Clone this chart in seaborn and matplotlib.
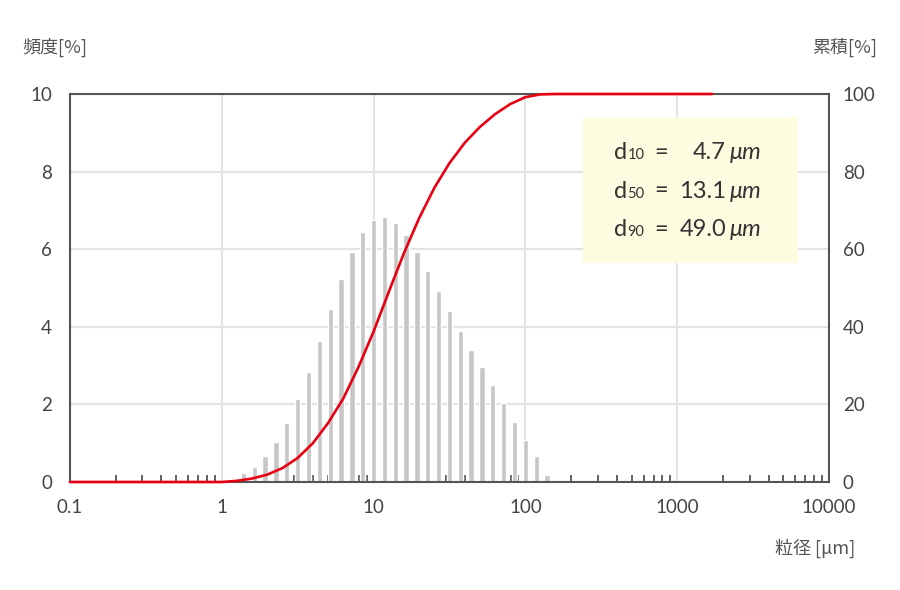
import matplotlib
matplotlib.use("Agg")
import matplotlib.pyplot as plt
from matplotlib.patches import Rectangle
from matplotlib.ticker import LogLocator, FixedLocator, NullFormatter
import pandas as pd
import seaborn as sns

# particle size classes (um) and frequency (%)
size = [1.179, 1.389, 1.638, 1.931, 2.276, 2.683, 3.162, 3.728, 4.394, 5.179,
        6.105, 7.197, 8.483, 10.0, 11.79, 13.89, 16.38, 19.31, 22.76, 26.83,
        31.62, 37.28, 43.94, 51.79, 61.05, 71.97, 84.83, 100.0, 117.9, 138.9]
freq = [0.08, 0.22, 0.39, 0.67, 1.04, 1.52, 2.13, 2.83, 3.63, 4.46,
        5.24, 5.93, 6.44, 6.74, 6.82, 6.68, 6.37, 5.93, 5.44, 4.92,
        4.40, 3.89, 3.41, 2.96, 2.50, 2.04, 1.55, 1.08, 0.66, 0.19]

# cumulative curve
cum_size = [0.1, 1.0, 1.259, 1.585, 1.995, 2.512, 3.162, 3.981, 5.012, 6.310,
            7.943, 10.0, 12.59, 15.85, 19.95, 25.12, 31.62, 39.81, 50.12,
            63.10, 79.43, 100.0, 125.9, 158.5, 1700]
cum_pct = [0, 0, 0.3, 0.9, 1.9, 3.6, 6.2, 10.0, 15.2, 21.5,
           29.6, 38.8, 49.0, 59.0, 68.0, 75.8, 82.2, 87.4, 91.5,
           94.8, 97.4, 99.2, 99.9, 100, 100]

stats = [("10", "4.7"), ("50", "13.1"), ("90", "49.0")]

sns.set_theme(style="white")
plt.rcParams["font.family"] = ["Lato", "Noto Sans CJK JP", "DejaVu Sans"]

W, H = 900, 590
fig = plt.figure(figsize=(9, 5.9), dpi=100)
ax = fig.add_axes([70 / W, 1 - 482 / H, 759 / W, 388 / H])

ax.bar(size, freq, width=[s * 0.08 for s in size], color="#c6c6c6", zorder=1)
ax.set_xscale("log")
ax.set_xlim(0.1, 10000)
ax.set_ylim(0, 10)
ax.xaxis.set_major_locator(FixedLocator([0.1, 1, 10, 100, 1000, 10000]))
ax.set_xticklabels(["0.1", "1", "10", "100", "1000", "10000"])
ax.xaxis.set_minor_locator(LogLocator(base=10, subs=range(2, 10)))
ax.xaxis.set_minor_formatter(NullFormatter())
ax.set_yticks([0, 2, 4, 6, 8, 10])
ax.grid(True, which="major", color="#e3e3e3", lw=1.5)
ax.set_axisbelow(True)
ax.tick_params(axis="both", which="major", length=0, labelsize=13.5,
               labelcolor="#444")
ax.tick_params(axis="x", which="major", pad=12)
ax.tick_params(axis="y", which="major", pad=13)
ax.tick_params(axis="x", which="minor", direction="in", length=5, width=1.3,
               color="#555", bottom=True)
for sp in ax.spines.values():
    sp.set_color("#555")
    sp.set_linewidth(1.5)

ax2 = ax.twinx()
df = pd.DataFrame({"size": cum_size, "cum": cum_pct})
sns.lineplot(data=df, x="size", y="cum", ax=ax2, color="#e60012", lw=1.9,
             zorder=3, clip_on=False)
ax2.set_ylim(0, 100)
ax2.set_yticks([0, 20, 40, 60, 80, 100])
ax2.set_xlabel("")
ax2.set_ylabel("")
ax2.tick_params(axis="y", length=0, labelsize=13.5, labelcolor="#444", pad=10)
for sp in ax2.spines.values():
    sp.set_visible(False)

ax.set_xlabel("")
ax.set_ylabel("")

# axis titles
jp = ["Noto Sans CJK JP", "DejaVu Sans"]
fig.text(22 / W, 1 - 47 / H, "頻度[%]", fontsize=13, color="#555",
         ha="left", va="center", family=jp)
fig.text(877 / W, 1 - 47 / H, "累積[%]", fontsize=13, color="#555",
         ha="right", va="center", family=jp)
fig.text(855 / W, 1 - 548 / H, "粒径 [μm]", fontsize=13, color="#555",
         ha="right", va="center", family=jp)

# d-value box
fig.add_artist(Rectangle((583 / W, 1 - 263 / H), 215 / W, 146 / H,
                         transform=fig.transFigure, facecolor="#fdfbe0",
                         edgecolor="none", zorder=1))
baselines = [159, 197.5, 236]
for (sub, val), yb in zip(stats, baselines):
    y = 1 - yb / H
    fig.text(614 / W, y, "d", fontsize=17, color="#333", va="baseline", zorder=2)
    fig.text(627.5 / W, y, sub, fontsize=10.5, color="#333", va="baseline", zorder=2)
    fig.text(661 / W, y, "=", fontsize=17, color="#333", va="baseline",
             ha="center", zorder=2)
    fig.text(726 / W, y, val, fontsize=17, color="#333", va="baseline",
             ha="right", zorder=2)
    fig.text(730 / W, y, "μm", fontsize=17, color="#333", va="baseline",
             style="italic", family=["Lato", "Open Sans", "DejaVu Sans"], zorder=2)

fig.savefig("out.png", dpi=100)
